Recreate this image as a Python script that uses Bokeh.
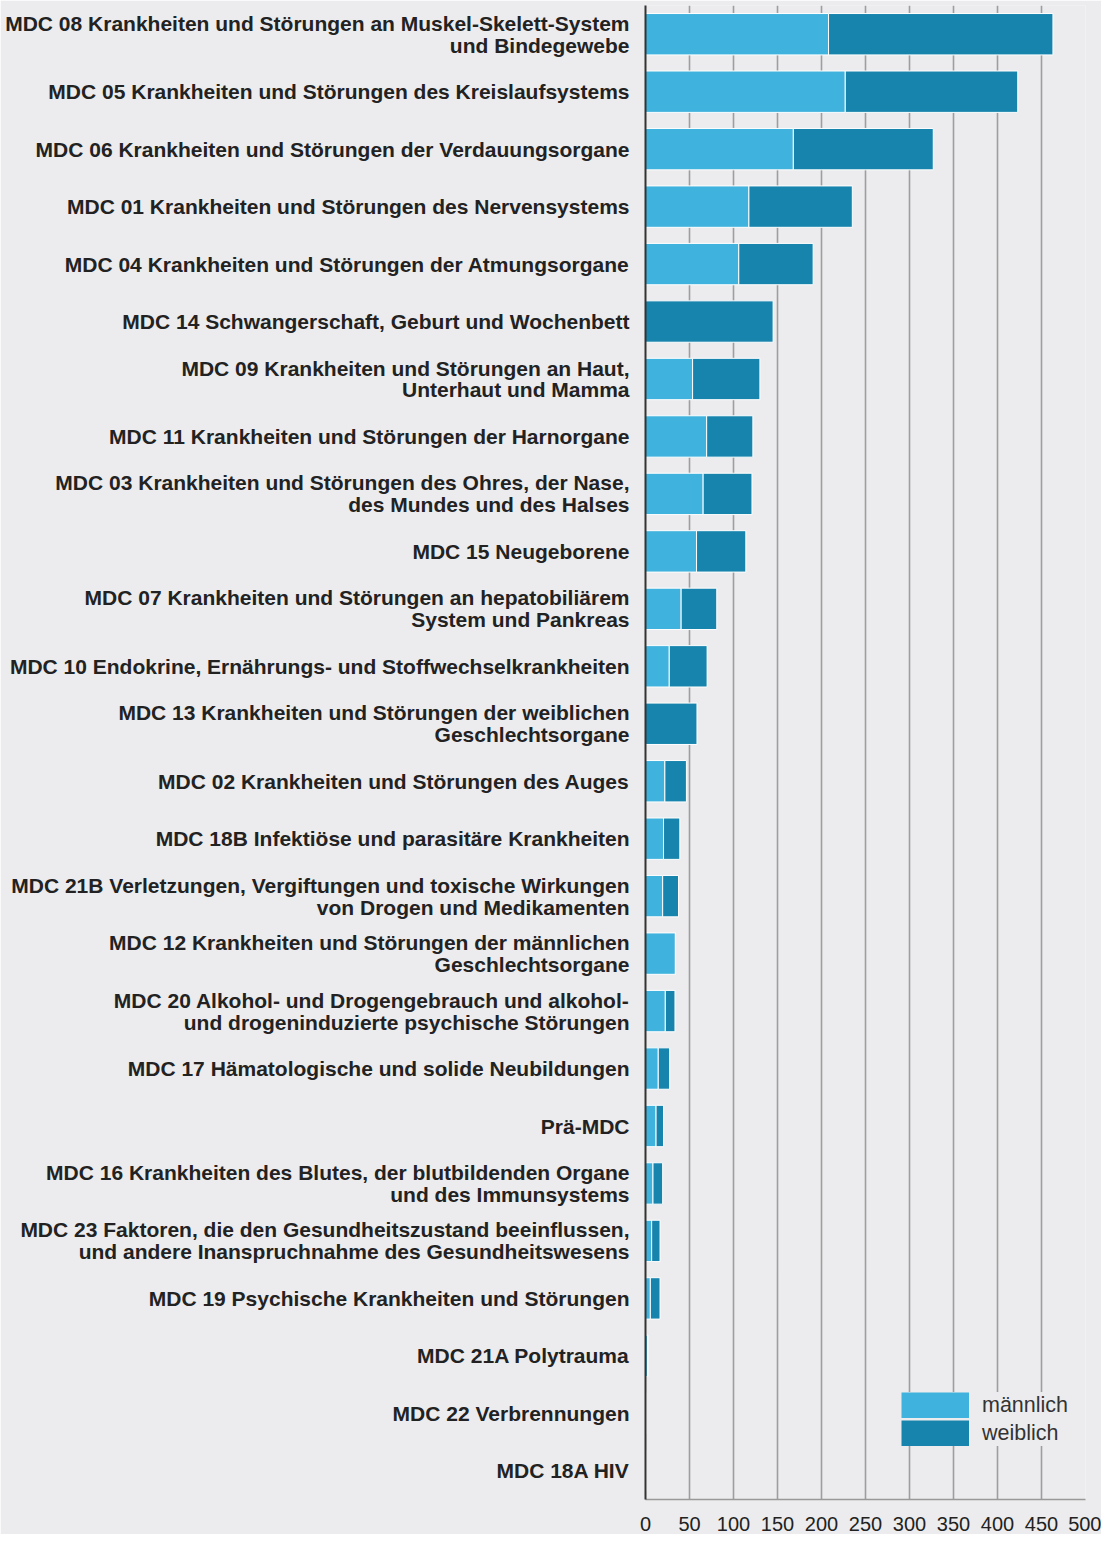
from bokeh.plotting import figure
from bokeh.models import FactorRange, Range1d, Legend, LegendItem, FixedTicker, ColumnDataSource
from bokeh.embed import file_html
from bokeh.resources import INLINE

# Categories top to bottom
categories = [
    "MDC 08 Krankheiten und Störungen an Muskel-Skelett-System\nund Bindegewebe",
    "MDC 05 Krankheiten und Störungen des Kreislaufsystems",
    "MDC 06 Krankheiten und Störungen der Verdauungsorgane",
    "MDC 01 Krankheiten und Störungen des Nervensystems",
    "MDC 04 Krankheiten und Störungen der Atmungsorgane",
    "MDC 14 Schwangerschaft, Geburt und Wochenbett",
    "MDC 09 Krankheiten und Störungen an Haut,\nUnterhaut und Mamma",
    "MDC 11 Krankheiten und Störungen der Harnorgane",
    "MDC 03 Krankheiten und Störungen des Ohres, der Nase,\ndes Mundes und des Halses",
    "MDC 15 Neugeborene",
    "MDC 07 Krankheiten und Störungen an hepatobiliärem\nSystem und Pankreas",
    "MDC 10 Endokrine, Ernährungs- und Stoffwechselkrankheiten",
    "MDC 13 Krankheiten und Störungen der weiblichen\nGeschlechtsorgane",
    "MDC 02 Krankheiten und Störungen des Auges",
    "MDC 18B Infektiöse und parasitäre Krankheiten",
    "MDC 21B Verletzungen, Vergiftungen und toxische Wirkungen\nvon Drogen und Medikamenten",
    "MDC 12 Krankheiten und Störungen der männlichen\nGeschlechtsorgane",
    "MDC 20 Alkohol- und Drogengebrauch und alkohol-\nund drogeninduzierte psychische Störungen",
    "MDC 17 Hämatologische und solide Neubildungen",
    "Prä-MDC",
    "MDC 16 Krankheiten des Blutes, der blutbildenden Organe\nund des Immunsystems",
    "MDC 23 Faktoren, die den Gesundheitszustand beeinflussen,\nund andere Inanspruchnahme des Gesundheitswesens",
    "MDC 19 Psychische Krankheiten und Störungen",
    "MDC 21A Polytrauma",
    "MDC 22 Verbrennungen",
    "MDC 18A HIV",
]
maennlich = [208, 227, 168, 117.5, 106, 0, 53.5, 69.5, 65.5, 58, 40.5, 27, 0,
             22, 20.5, 19.5, 34, 22.5, 14.5, 12, 8.5, 7, 5.5, 2.5, 0.3, 0.3]
weiblich = [255, 196, 159, 117.5, 84.5, 145, 76.5, 52.5, 55.5, 56, 40.5, 43, 58.5,
            24.5, 18.5, 18, 0, 11, 13, 8.5, 11, 9.5, 11, 0.5, 0.3, 0.2]
x_ticks = [0, 50, 100, 150, 200, 250, 300, 350, 400, 450, 500]
series_names = ["männlich", "weiblich"]

BG = "#ECECEE"
C_M = "#3FB2DD"
C_W = "#1684AD"

src = ColumnDataSource(data=dict(
    cat=categories,
    m=maennlich,
    w=weiblich,
    total=[a + b for a, b in zip(maennlich, weiblich)],
))

W, H = 1101, 1534
FL, FR, FT, FB = 645, 1085, 5, 1499

p = figure(
    width=W, height=H,
    y_range=FactorRange(factors=list(reversed(categories)), range_padding=0),
    x_range=Range1d(0, 500),
    output_backend="svg", toolbar_location=None,
    min_border_left=FL, min_border_right=W - FR, min_border_top=FT, min_border_bottom=H - FB,
)
p.background_fill_color = BG
p.border_fill_color = BG
p.outline_line_color = None

r_m = p.hbar(y="cat", left=0, right="m", height=0.72, source=src,
             fill_color=C_M, line_color="white", line_width=1)
r_w = p.hbar(y="cat", left="m", right="total", height=0.72, source=src,
             fill_color=C_W, line_color="white", line_width=1)

# legend proxies (thick lines draw full-size swatches); NaN x -> nothing drawn in plot
nan = float("nan")
proxy = ColumnDataSource(data=dict(x=[nan, nan], y=[categories[-1], categories[-1]]))
lg_m = p.line(x="x", y="y", source=proxy, line_color=C_M, line_width=26, line_cap="butt")
lg_w = p.line(x="x", y="y", source=proxy, line_color=C_W, line_width=26, line_cap="butt")

# grid
p.ygrid.grid_line_color = None
p.xgrid.ticker = FixedTicker(ticks=x_ticks)
p.xgrid.grid_line_color = "#9E9E9E"
p.xgrid.grid_line_width = 1.6

# x axis
p.xaxis.ticker = FixedTicker(ticks=x_ticks)
p.xaxis.axis_line_color = "#999999"
p.xaxis.axis_line_width = 1.5
p.xaxis.major_tick_line_color = None
p.xaxis.minor_tick_line_color = None
p.xaxis.major_tick_out = 0
p.xaxis.major_label_text_font = "Liberation Sans"
p.xaxis.major_label_text_font_size = "20px"
p.xaxis.major_label_text_color = "#222222"
p.xaxis.major_label_standoff = 17

# y axis
p.yaxis.axis_line_color = "#333333"
p.yaxis.axis_line_width = 2
p.yaxis.major_tick_line_color = None
p.yaxis.minor_tick_line_color = None
p.yaxis.major_tick_out = 0
p.yaxis.major_label_text_font = "Liberation Sans"
p.yaxis.major_label_text_font_style = "bold"
p.yaxis.major_label_text_font_size = "21px"
p.yaxis.major_label_text_color = "#222222"
p.yaxis.major_label_text_line_height = 0.95
p.yaxis.major_label_standoff = 16

legend = Legend(
    items=[LegendItem(label=series_names[0], renderers=[lg_m]),
           LegendItem(label=series_names[1], renderers=[lg_w])],
    location=(256, 53),
    padding=4, margin=0, spacing=2,
    glyph_width=68, glyph_height=26, label_height=26,
    label_standoff=13,
    label_text_font="Liberation Sans", label_text_font_size="21.5px",
    label_text_color="#333333",
    background_fill_color=BG, background_fill_alpha=1.0,
    border_line_color=None,
)
p.add_layout(legend)

open("out.html", "w").write(file_html(p, INLINE))
